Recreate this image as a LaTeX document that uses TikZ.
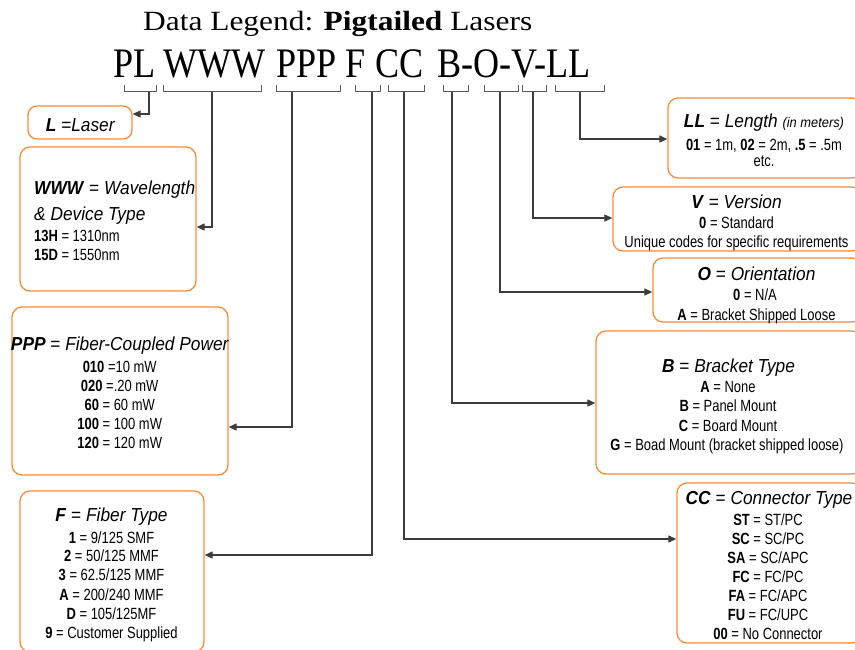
\documentclass[tikz,border=0pt]{standalone}
\usepackage{fontspec}
\usetikzlibrary{arrows.meta}
\newfontfamily\titlef[FakeStretch=1.13]{Liberation Serif}
\newfontfamily\codef[FakeStretch=0.86]{Liberation Serif}
\newfontfamily\headf[FakeStretch=0.92]{Liberation Sans}
\newfontfamily\bodyf[FakeStretch=0.8]{Liberation Sans}
\definecolor{orng}{RGB}{247,140,64}
\definecolor{conncol}{RGB}{60,60,60}
\definecolor{brkcol}{RGB}{90,90,90}
\tikzset{
  boxst/.style={draw=orng, line width=1.3pt, rounded corners=10pt, inner sep=0pt, fill=white},
  hd/.style={font=\headf\fontsize{18.8}{22}\selectfont, inner sep=0pt, anchor=base},
  hdl/.style={hd, anchor=base west},
  bd/.style={font=\bodyf\fontsize{16.2}{19}\selectfont, inner sep=0pt, anchor=base},
  bdl/.style={bd, anchor=base west},
  codest/.style={font=\codef\fontsize{42}{46}\selectfont, inner sep=0pt, anchor=base west},
  brk/.style={draw=brkcol, line width=1pt},
  conn/.style={draw=conncol, line width=1.2pt, -{Triangle[length=8pt,width=7pt]}},
}
\begin{document}
\begin{tikzpicture}[x=1pt,y=-1pt]
\useasboundingbox (0,0) rectangle (855,649);
\clip (0,0) rectangle (855,649);
\fill[white] (0,0) rectangle (855,649);

% title
\node[anchor=base west, inner sep=0pt, font=\titlef\fontsize{27.8}{32}\selectfont] (title) at (143,30.7) {Data Legend: \textbf{Pigtailed} Lasers};

% code line
\node[codest] (cPL) at (113,77.3) {PL};
\node[codest] (cWWW) at (163,77.3) {WWW};
\node[codest] (cPPP) at (276,77.3) {PPP};
\node[codest] (cF) at (345,77.3) {F};
\node[codest] (cCC) at (375,77.3) {CC};
\node[codest] (cBOVL) at (437,77.3) {B-O-V-LL};

% brackets
\draw[brk] (124,85) |- (156,91.7) -- (156,85);
\draw[brk] (163,85) |- (261,91.7) -- (261,85);
\draw[brk] (276,85) |- (340,91.7) -- (340,85);
\draw[brk] (355,85) |- (380,91.7) -- (380,85);
\draw[brk] (388,85) |- (424,91.7) -- (424,85);
\draw[brk] (443,85) |- (468,91.7) -- (468,85);
\draw[brk] (484,85) |- (518,91.7) -- (518,85);
\draw[brk] (522,85) |- (546,91.7) -- (546,85);
\draw[brk] (555,85) |- (604,91.7) -- (604,85);
\coordinate (sL) at (149,91.7);
\coordinate (sW) at (212,91.7);
\coordinate (sP) at (292,91.7);
\coordinate (sF) at (372,91.7);
\coordinate (sC) at (404,91.7);
\coordinate (sB) at (452,91.7);
\coordinate (sO) at (500,91.7);
\coordinate (sV) at (533,91.7);
\coordinate (sLL) at (580,91.7);

% boxes
\node[boxst, rounded corners=9pt, minimum width=104pt, minimum height=33pt] (bL) at (80,122.5) {};
\node[boxst, minimum width=176pt, minimum height=144pt] (bW) at (108,219) {};
\node[boxst, minimum width=216pt, minimum height=168pt] (bP) at (120,391) {};
\node[boxst, minimum width=184pt, minimum height=161pt] (bF) at (112,571.5) {};
\node[boxst, minimum width=194pt, minimum height=80pt] (bLL) at (765,138) {};
\node[boxst, minimum width=249pt, minimum height=64pt] (bV) at (737.5,219) {};
\node[boxst, minimum width=209pt, minimum height=64pt] (bO) at (757.5,290) {};
\node[boxst, minimum width=266pt, minimum height=143pt] (bB) at (729,402.5) {};
\node[boxst, minimum width=185pt, minimum height=160pt] (bC) at (769.5,563) {};

% arrow levels
\coordinate (yL) at (0,114);
\coordinate (yW) at (0,227);
\coordinate (yP) at (0,427);
\coordinate (yF) at (0,555);
\coordinate (yC) at (0,539);
\coordinate (yB) at (0,403);
\coordinate (yO) at (0,292);
\coordinate (yV) at (0,218);
\coordinate (yLL) at (0,139);

% connectors
\draw[conn] (sL) |- (bL.east |- yL);
\draw[conn] (sW) |- (bW.east |- yW);
\draw[conn] (sP) |- (bP.east |- yP);
\draw[conn] (sF) |- (bF.east |- yF);
\draw[conn] (sC) |- (bC.west |- yC);
\draw[conn] (sB) |- (bB.west |- yB);
\draw[conn] (sO) |- (bO.west |- yO);
\draw[conn] (sV) |- (bV.west |- yV);
\draw[conn] (sLL) |- (bLL.west |- yLL);

% L box
\node[hd] (tL1) at (80.5,131) {\textbf{\textit{L}} \textit{=Laser}};

% WWW box
\node[hdl] (tW1) at (34,194.3) {\textbf{\textit{WWW}} = \textit{Wavelength}};
\node[hdl] (tW2) at (34,220.7) {\textit{\& Device Type}};
\node[bdl] (tW3) at (34,241.3) {\textbf{13H} = 1310nm};
\node[bdl] (tW4) at (34,260) {\textbf{15D} = 1550nm};

% PPP box
\node[hd] (tP1) at (120,350.7) {\textbf{\textit{PPP}} = \textit{Fiber-Coupled Power}};
\node[bd] (tP2) at (119.7,372.7) {\textbf{010} =10 mW};
\node[bd] (tP3) at (119.7,391.7) {\textbf{020} =.20 mW};
\node[bd] (tP4) at (119.7,410.7) {\textbf{60} = 60 mW};
\node[bd] (tP5) at (119.7,429.3) {\textbf{100} = 100 mW};
\node[bd] (tP6) at (119.7,448.3) {\textbf{120} = 120 mW};

% F box
\node[hd] (tF1) at (111.5,521.7) {\textbf{\textit{F}} = \textit{Fiber Type}};
\node[bd] (tF2) at (111.5,543.3) {\textbf{1} = 9/125 SMF};
\node[bd] (tF3) at (111.5,561.7) {\textbf{2} = 50/125 MMF};
\node[bd] (tF4) at (111.5,580.7) {\textbf{3} = 62.5/125 MMF};
\node[bd] (tF5) at (111.5,600) {\textbf{A} = 200/240 MMF};
\node[bd] (tF6) at (111.5,619.3) {\textbf{D} = 105/125MF};
\node[bd] (tF7) at (111.5,638.3) {\textbf{9} = Customer Supplied};

% LL box
\node[hd] (tLL1) at (764,127) {\textbf{\textit{LL}} = \textit{Length} {\fontsize{14}{16}\selectfont\textit{(in meters)}}};
\node[bd] (tLL2) at (764,150) {\textbf{01} = 1m, \textbf{02} = 2m, \textbf{.5} = .5m};
\node[bd] (tLL3) at (764,166.7) {etc.};

% V box
\node[hd] (tV1) at (736.5,208) {\textbf{\textit{V}} = \textit{Version}};
\node[bd] (tV2) at (736.5,228.3) {\textbf{0} = Standard};
\node[bd] (tV3) at (736.5,247.7) {Unique codes for specific requirements};

% O box
\node[hd] (tO1) at (756.5,280.7) {\textbf{\textit{O}} = \textit{Orientation}};
\node[bd] (tO2) at (755,300.7) {\textbf{0} = N/A};
\node[bd] (tO3) at (756.5,320) {\textbf{A} = Bracket Shipped Loose};

% B box
\node[hd] (tB1) at (728.5,372.7) {\textbf{\textit{B}} = \textit{Bracket Type}};
\node[bd] (tB2) at (728,392.7) {\textbf{A} = None};
\node[bd] (tB3) at (728,411.7) {\textbf{B} = Panel Mount};
\node[bd] (tB4) at (728,431) {\textbf{C} = Board Mount};
\node[bd] (tB5) at (727,450) {\textbf{G} = Boad Mount (bracket shipped loose)};

% CC box
\node[hd] (tC1) at (769,504) {\textbf{\textit{CC}} = \textit{Connector Type}};
\node[bd] (tC2) at (768,525) {\textbf{ST} = ST/PC};
\node[bd] (tC3) at (768,544) {\textbf{SC} = SC/PC};
\node[bd] (tC4) at (768,563.3) {\textbf{SA} = SC/APC};
\node[bd] (tC5) at (768,582.3) {\textbf{FC} = FC/PC};
\node[bd] (tC6) at (768,601.3) {\textbf{FA} = FC/APC};
\node[bd] (tC7) at (768,620) {\textbf{FU} = FC/UPC};
\node[bd] (tC8) at (768,639.3) {\textbf{00} = No Connector};
\end{tikzpicture}
\end{document}
